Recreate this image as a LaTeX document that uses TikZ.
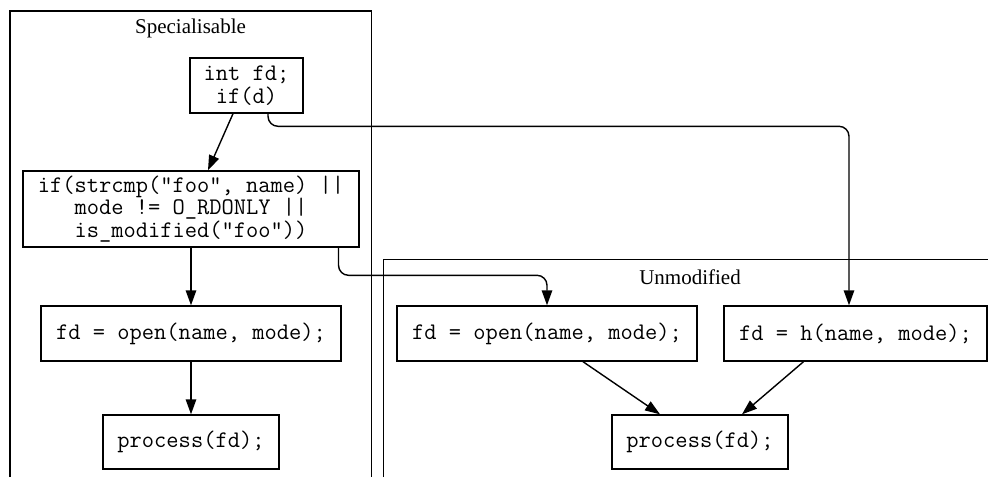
\documentclass[tikz,border=0pt]{standalone}
\usepackage{fontspec}
\setmainfont{Liberation Serif}
\usetikzlibrary{arrows.meta}

\tikzset{
  code/.style={draw, line width=1.4pt, inner sep=0pt, align=center,
    font=\ttfamily\fontsize{23.8pt}{22.5pt}\selectfont},
  cluster/.style={line width=1.4pt},
  clabel/.style={inner sep=0pt, font=\fontsize{21pt}{24pt}\selectfont},
  flow/.style={line width=1.4pt, -{Triangle[length=15pt,width=10.5pt]}},
  elbow/.style={flow, rounded corners=10pt}
}

\begin{document}
\begin{tikzpicture}[x=1pt, y=-1pt]
  \useasboundingbox (0,0) rectangle (988,477);
  \fill[white] (0,0) rectangle (988,477);

  % clusters (open at the page edges)
  \draw[cluster] (10,477) -- (10,11) -- (371.5,11) -- (371.5,477);
  \node[clabel] (lspec) at (190.5,28) {Specialisable};
  \draw[cluster] (383.5,477) -- (383.5,259.5) -- (988,259.5);
  \node[clabel] (lunmod) at (690,277) {Unmodified};

  % statements
  \node[code, minimum width=113pt, minimum height=55pt] (decl) at (246.5,85.5) {int fd;\\if(d)};
  \node[code, minimum width=336pt, minimum height=76pt] (cond) at (191,209)
    {if(strcmp("foo", name) ||\\mode != O\_RDONLY ||\\is\_modified("foo"))};
  \node[code, minimum width=300pt, minimum height=55pt] (openS) at (191,333.5) {fd = open(name, mode);};
  \node[code, minimum width=176pt, minimum height=54pt] (procS) at (191,442) {process(fd);};
  \node[code, minimum width=300pt, minimum height=55pt] (openU) at (547,333.5) {fd = open(name, mode);};
  \node[code, minimum width=263pt, minimum height=55pt] (hook) at (855.5,333.5) {fd = h(name, mode);};
  \node[code, minimum width=176pt, minimum height=54pt] (procU) at (700,442) {process(fd);};

  % control flow
  \draw[flow] ([xshift=-13.5pt]decl.south) -- ([xshift=17pt]cond.north);
  \draw[elbow] ([xshift=21.5pt]decl.south) |- ([xshift=-6.5pt,yshift=179pt]hook.north)
    -- ([xshift=-6.5pt]hook.north);
  \draw[flow] (cond.south) -- (openS.north);
  \draw[elbow] ([xshift=147.5pt]cond.south) |- ([yshift=30pt]openU.north) -- (openU.north);
  \draw[flow] (openS.south) -- (procS.north);
  \draw[flow] ([xshift=36pt]openU.south) -- ([xshift=-40pt]procU.north);
  \draw[flow] ([xshift=-52pt]hook.south) -- ([xshift=42pt]procU.north);
\end{tikzpicture}
\end{document}
